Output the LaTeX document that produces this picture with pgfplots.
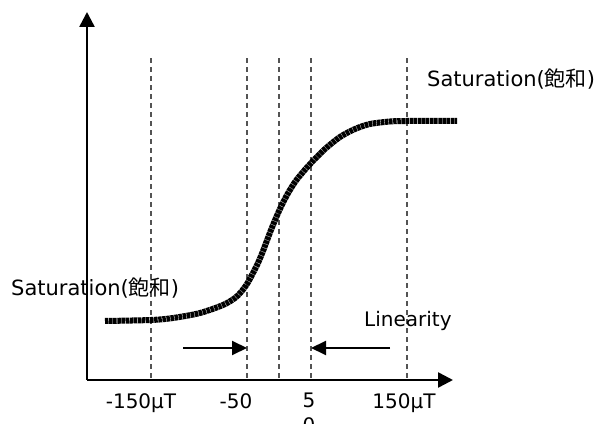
\documentclass[border=0pt]{standalone}
\usepackage{fontspec}
\setmainfont{DejaVu Sans}
\newfontfamily\cjk{Noto Sans CJK JP}
\usepackage{pgfplots}
\pgfplotsset{compat=1.18}
\usetikzlibrary{arrows.meta}
\begin{document}
\begin{tikzpicture}[font=\fontsize{20bp}{25bp}\selectfont]
\useasboundingbox (0,0) rectangle (598bp,424bp);
\begin{axis}[
at={(87bp,44bp)}, anchor=south west,
scale only axis, width=366bp, height=368bp,
xmin=87, xmax=453, ymin=44, ymax=412,
axis lines*=left,
axis line style={line width=2.5bp, -{Triangle[length=15bp,width=15bp]}},
ytick=\empty,
xtick={141,236,309,404},
xticklabels={{-150µT},{-50},{5\\0},{150µT}},
xticklabel style={align=center, anchor=north, inner sep=0pt, yshift=-13bp},
major tick length=0pt,
clip=false,
]
% vertical guide lines
\addplot[gray!65!black, line width=1.6bp, dash pattern=on 5bp off 4bp] coordinates {(151,46) (151,366)};
\addplot[gray!65!black, line width=1.6bp, dash pattern=on 5bp off 4bp] coordinates {(247,46) (247,366)};
\addplot[gray!65!black, line width=1.6bp, dash pattern=on 5bp off 4bp] coordinates {(279,46) (279,366)};
\addplot[gray!65!black, line width=1.6bp, dash pattern=on 5bp off 4bp] coordinates {(311,46) (311,366)};
\addplot[gray!65!black, line width=1.6bp, dash pattern=on 5bp off 4bp] coordinates {(407,46) (407,366)};
% saturation curve
\addplot[black, line width=6bp, smooth, tension=0.5, dash pattern=on 3.5bp off 0.6bp] coordinates {
(105,103) (151,104) (173,106) (200,111) (223,119) (235,126) (241,132) (247,140)
(253,151) (258,161) (263,173) (271,194) (279,213) (287,229) (295,242) (303,252)
(311,261) (325,275) (340,287) (355,295) (370,300) (390,302.5) (407,303) (457,303)
};
% linear range arrows
\addplot[black, line width=2bp, -{Triangle[length=15bp,width=14bp]}] coordinates {(183,76) (247,76)};
\addplot[black, line width=2bp, -{Triangle[length=15bp,width=14bp]}] coordinates {(390,76) (311,76)};
\node[anchor=base west, inner sep=0pt, font=\fontsize{21bp}{25bp}\selectfont] at (axis cs:11,128) {Saturation({\cjk 飽和})};
\node[anchor=base west, inner sep=0pt, font=\fontsize{21bp}{25bp}\selectfont] at (axis cs:427,337) {Saturation({\cjk 飽和})};
\node[anchor=base west, inner sep=0pt] at (axis cs:364,97) {Linearity};
\end{axis}
\end{tikzpicture}
\end{document}
